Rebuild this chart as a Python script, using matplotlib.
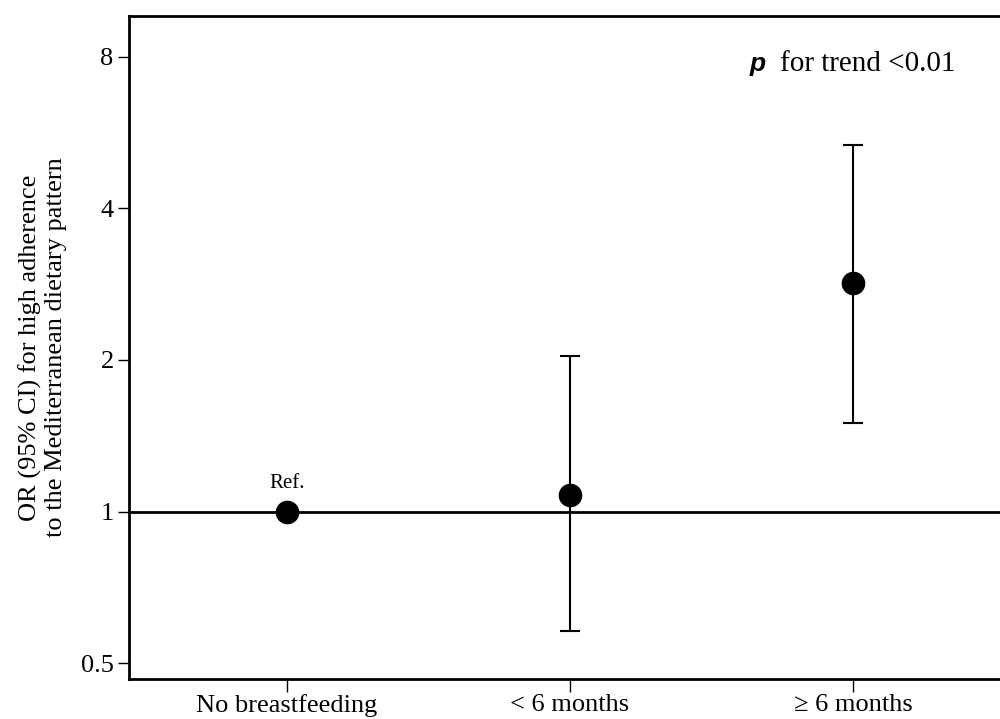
import matplotlib
matplotlib.use("Agg")
import matplotlib.pyplot as plt
from matplotlib.ticker import FixedLocator, NullLocator

categories = ["No breastfeeding", "< 6 months", "\u2265 6 months"]
odds_ratio = [1.0, 1.08, 2.84]
ci_low = [1.0, 0.58, 1.50]
ci_high = [1.0, 2.04, 5.34]
yticks = [0.5, 1, 2, 4, 8]
yticklabels = ["0.5", "1", "2", "4", "8"]

serif = "Liberation Serif"

fig = plt.figure(figsize=(10, 7.19), dpi=100)
ax = fig.add_axes([0.129, 0.0556, 0.871, 0.9226])

x = list(range(len(categories)))

ax.axhline(1, color="black", lw=2, zorder=1)

# error bars only where a CI exists
for i in x:
    if ci_low[i] != ci_high[i]:
        ax.errorbar(x[i], odds_ratio[i],
                    yerr=[[odds_ratio[i] - ci_low[i]], [ci_high[i] - odds_ratio[i]]],
                    fmt="none", ecolor="black", elinewidth=1.5, capsize=7, capthick=1.5, zorder=2)
ax.plot(x, odds_ratio, "o", color="black", markersize=16, zorder=3)

ax.set_yscale("log", base=2)
ax.set_ylim(0.465, 9.65)
ax.set_xlim(-0.558, 2.519)
ax.yaxis.set_major_locator(FixedLocator(yticks))
ax.yaxis.set_minor_locator(NullLocator())
ax.set_yticklabels(yticklabels, fontname=serif, fontsize=19)
ax.set_xticks(x)
ax.set_xticklabels(categories, fontname=serif, fontsize=19)
ax.tick_params(axis="y", length=8, width=1, pad=3)
ax.tick_params(axis="x", length=9, width=1, pad=2)

for s in ["left", "top", "bottom"]:
    ax.spines[s].set_linewidth(2)
ax.spines["right"].set_visible(False)

ax.set_ylabel("OR (95% CI) for high adherence\nto the Mediterranean dietary pattern",
              fontname=serif, fontsize=19, linespacing=1.2, labelpad=10)

ax.text(0, 1.138, "Ref.", fontname=serif, fontsize=15, ha="center", va="center")
ax.text(1.636, 7.75, "p", fontname="Liberation Sans", fontweight="bold", fontstyle="italic",
        fontsize=19, ha="left", va="center")
ax.text(1.742, 7.75, "for trend <0.01", fontname=serif, fontsize=21, ha="left", va="center")

fig.savefig("out.png", dpi=100)
